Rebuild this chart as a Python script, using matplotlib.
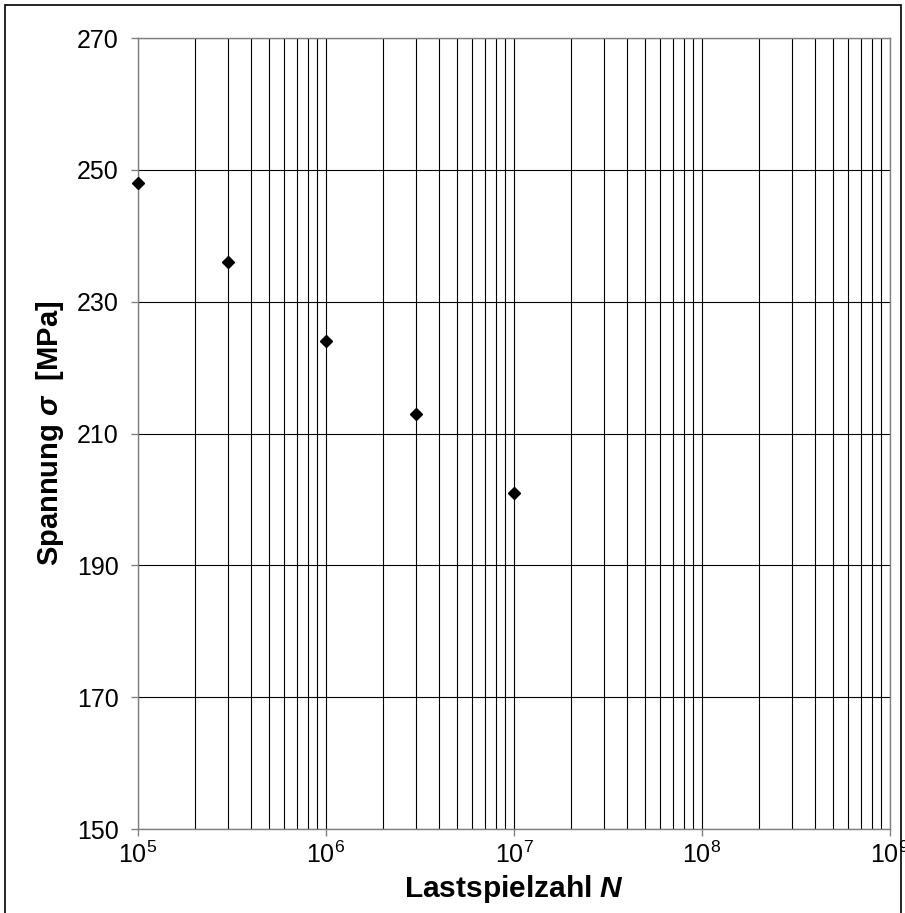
import numpy as np
import matplotlib
matplotlib.use('Agg')
import matplotlib.pyplot as plt
from matplotlib.patches import Rectangle
from matplotlib.ticker import LogLocator, FixedLocator, NullFormatter

plt.rcParams.update({
    'font.family': ['Liberation Sans', 'DejaVu Sans'],
    'mathtext.fontset': 'custom',
    'mathtext.rm': 'Liberation Sans',
    'mathtext.it': 'Liberation Sans:italic',
    'mathtext.bf': 'Liberation Sans:bold',
    'mathtext.bfit': 'Liberation Sans:italic:bold',
    'mathtext.default': 'regular',
})

# Messwerte (Wöhlerlinie)
N = [1e5, 3e5, 1e6, 3e6, 1e7]
sigma = [248, 236, 224, 213, 201]
y_ticks = [150, 170, 190, 210, 230, 250, 270]

fig = plt.figure(figsize=(9.05, 9.13), dpi=100)
ax = fig.add_axes([138/905, 1 - 829/913, (890 - 138)/905, (829 - 38)/913])

ax.plot(N, sigma, 'kD', ms=6.5, clip_on=False, zorder=5)

ax.set_xscale('log')
ax.set_xlim(1e5, 1e9)
ax.set_ylim(150, 270)
ax.yaxis.set_major_locator(FixedLocator(y_ticks))
ax.xaxis.set_major_locator(LogLocator(base=10, numticks=10))
ax.xaxis.set_minor_locator(LogLocator(base=10, subs=np.arange(2, 10), numticks=20))
ax.xaxis.set_minor_formatter(NullFormatter())

ax.grid(which='major', axis='both', color='black', linewidth=0.8)
ax.grid(which='minor', axis='x', color='black', linewidth=0.8)

for s in ax.spines.values():
    s.set_color('#808080')
    s.set_linewidth(1.0)

ax.tick_params(axis='both', which='major', direction='out', length=5, width=1,
               color='#808080', labelsize=18)
ax.tick_params(axis='y', which='major', pad=9)
ax.tick_params(axis='x', which='major', pad=4)
ax.tick_params(axis='x', which='minor', length=0)

ax.set_xlabel(r'Lastspielzahl $\mathbfit{N}$', fontsize=21.5, fontweight='bold', labelpad=4)
ax.set_ylabel(r'Spannung $\mathbfit{\sigma}$  [MPa]', fontsize=21, fontweight='bold', labelpad=8)

# Rahmen um das Diagramm (unten abgeschnitten)
fig.add_artist(Rectangle((5/905, -0.05), (901 - 5)/905, 1.05 - 5/913,
                         transform=fig.transFigure, fill=False,
                         edgecolor='black', linewidth=1.2, clip_on=False))

fig.savefig('out.png', dpi=100)
